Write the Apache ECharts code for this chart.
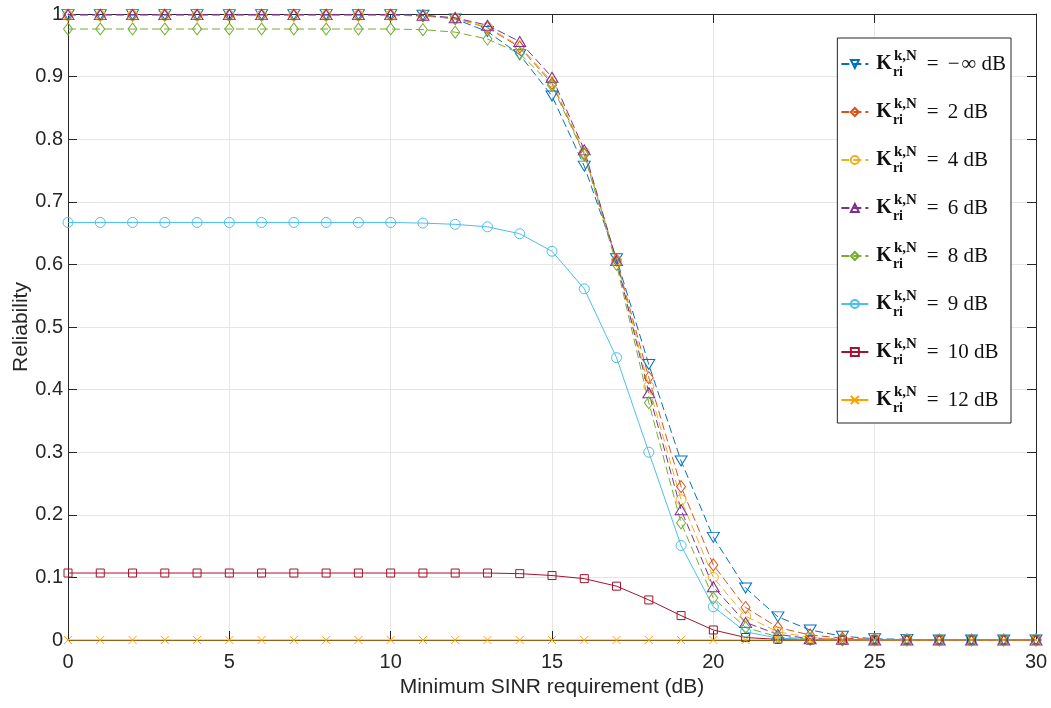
<!DOCTYPE html>
<html><head><meta charset="utf-8">
<script src="https://cdn.jsdelivr.net/npm/echarts@6/dist/echarts.min.js"></script>
<style>html,body{margin:0;padding:0;background:#fff}#c{width:1051px;height:708px}</style>
</head><body><div id="c"></div>
<script>
// x: minimum SINR requirement (dB)
const sinr = [0,1,2,3,4,5,6,7,8,9,10,11,12,13,14,15,16,17,18,19,20,21,22,23,24,25,26,27,28,29,30];
const relNegInf = [0.999,0.999,0.999,0.999,0.999,0.999,0.999,0.999,0.999,0.999,0.999,0.998,0.992,0.972,0.935,0.869,0.757,0.609,0.440,0.286,0.164,0.083,0.037,0.016,0.006,0.002,0.001,0,0,0,0];
const rel2dB = [0.998,0.998,0.998,0.998,0.998,0.998,0.998,0.998,0.998,0.998,0.998,0.997,0.993,0.978,0.947,0.889,0.777,0.607,0.419,0.245,0.120,0.052,0.020,0.008,0.003,0.001,0,0,0,0,0];
const rel4dB = [0.998,0.998,0.998,0.998,0.998,0.998,0.998,0.998,0.998,0.998,0.998,0.997,0.993,0.979,0.949,0.892,0.779,0.606,0.405,0.224,0.100,0.038,0.013,0.004,0.001,0,0,0,0,0,0];
const rel6dB = [0.999,0.999,0.999,0.999,0.999,0.999,0.999,0.999,0.999,0.999,0.999,0.998,0.994,0.982,0.956,0.899,0.783,0.606,0.395,0.208,0.085,0.028,0.009,0.002,0.001,0,0,0,0,0,0];
const rel8dB = [0.976,0.976,0.976,0.976,0.976,0.976,0.976,0.976,0.976,0.976,0.976,0.975,0.971,0.960,0.937,0.886,0.775,0.600,0.379,0.187,0.067,0.020,0.005,0.001,0,0,0,0,0,0,0];
const rel9dB = [0.667,0.667,0.667,0.667,0.667,0.667,0.667,0.667,0.667,0.667,0.667,0.666,0.664,0.660,0.649,0.621,0.561,0.451,0.300,0.151,0.053,0.013,0.003,0.001,0,0,0,0,0,0,0];
const rel10dB = [0.107,0.107,0.107,0.107,0.107,0.107,0.107,0.107,0.107,0.107,0.107,0.107,0.107,0.107,0.106,0.103,0.098,0.086,0.064,0.039,0.016,0.004,0.001,0,0,0,0,0,0,0,0];
const rel12dB = [0,0,0,0,0,0,0,0,0,0,0,0,0,0,0,0,0,0,0,0,0,0,0,0,0,0,0,0,0,0,0];
const legendValues = ['\u2212\u200A\u221E', '2', '4', '6', '8', '9', '10', '12'];
const xTicks = [0, 5, 10, 15, 20, 25, 30];
const yTicks = [0, 0.1, 0.2, 0.3, 0.4, 0.5, 0.6, 0.7, 0.8, 0.9, 1];

const seriesDefs = [
  {key: 'negInf', data: relNegInf, color: '#0072BD', symbol: 'triangle', rotate: 180, size: [12, 10], dash: true},
  {key: 'k2', data: rel2dB, color: '#D95319', symbol: 'diamond', size: [9, 12], dash: true},
  {key: 'k4', data: rel4dB, color: '#EDB120', symbol: 'circle', size: 10, dash: true},
  {key: 'k6', data: rel6dB, color: '#7E2F8E', symbol: 'triangle', rotate: 0, size: [12, 10], dash: true},
  {key: 'k8', data: rel8dB, color: '#77AC30', symbol: 'diamond', size: [9, 12], dash: true},
  {key: 'k9', data: rel9dB, color: '#4DBEEE', symbol: 'circle', size: 10, dash: false},
  {key: 'k10', data: rel10dB, color: '#A2142F', symbol: 'rect', size: 8, dash: false},
  {key: 'k12', data: rel12dB, color: '#FFA000', symbol: 'path://M0,0L10,10M10,0L0,10', size: 8, dash: false}
];

const labelMap = {};
seriesDefs.forEach((d, i) => { labelMap[d.key] = legendValues[i]; });

const axisColor = '#262626';
const sansFont = 'Liberation Sans, Arial, Helvetica, sans-serif';
const serifFont = 'Liberation Serif, Times New Roman, serif';

const series = seriesDefs.map(d => ({
  name: d.key,
  type: 'line',
  xAxisIndex: 0,
  yAxisIndex: 0,
  data: sinr.map((x, i) => [x, d.data[i]]),
  symbol: d.symbol,
  symbolSize: d.size,
  symbolRotate: d.rotate || 0,
  showAllSymbol: true,
  lineStyle: {color: d.color, width: 1, type: d.dash ? [8, 4] : 'solid'},
  itemStyle: {color: 'rgba(255,255,255,0)', borderColor: d.color, borderWidth: 1},
  emphasis: {disabled: true},
  animation: false,
  clip: false
}));

const chart = echarts.init(document.getElementById('c'), null, {renderer: 'canvas'});
chart.setOption({
  backgroundColor: '#fff',
  animation: false,
  grid: {left: 68, right: 15, top: 14, bottom: 68, containLabel: false, outerBoundsMode: 'none'},
  xAxis: [{
    type: 'value', min: 0, max: 30, interval: 5, position: 'bottom',
    name: 'Minimum SINR requirement (dB)', nameLocation: 'middle', nameGap: 32,
    nameTextStyle: {fontSize: 21, color: axisColor, fontFamily: sansFont},
    axisLine: {show: true, onZero: false, lineStyle: {color: axisColor, width: 1}},
    axisTick: {show: true, inside: true, length: 9, lineStyle: {color: axisColor}},
    axisLabel: {fontSize: 20, color: axisColor, fontFamily: sansFont, margin: 12,
      formatter: v => xTicks.indexOf(v) >= 0 ? String(v) : ''},
    splitLine: {show: true, lineStyle: {color: '#e6e6e6', width: 1}}
  }, {
    type: 'value', min: 0, max: 30, interval: 5, position: 'top',
    axisLine: {show: true, onZero: false, lineStyle: {color: axisColor, width: 1}},
    axisTick: {show: true, inside: true, length: 9, lineStyle: {color: axisColor}},
    axisLabel: {show: false}, splitLine: {show: false}
  }],
  yAxis: [{
    type: 'value', min: 0, max: 1, interval: 0.1, position: 'left',
    name: 'Reliability', nameLocation: 'middle', nameGap: 36, nameMoveOverlap: false,
    nameTextStyle: {fontSize: 21, color: axisColor, fontFamily: sansFont},
    axisLine: {show: true, onZero: false, lineStyle: {color: axisColor, width: 1}},
    axisTick: {show: true, inside: true, length: 9, lineStyle: {color: axisColor}},
    axisLabel: {fontSize: 20, color: axisColor, fontFamily: sansFont, margin: 5,
      formatter: v => {
        const r = Math.round(v * 10) / 10;
        return yTicks.indexOf(r) >= 0 ? String(r) : '';
      }},
    splitLine: {show: true, lineStyle: {color: '#e6e6e6', width: 1}}
  }, {
    type: 'value', min: 0, max: 1, interval: 0.1, position: 'right',
    axisLine: {show: true, onZero: false, lineStyle: {color: axisColor, width: 1}},
    axisTick: {show: true, inside: true, length: 9, lineStyle: {color: axisColor}},
    axisLabel: {show: false}, splitLine: {show: false}
  }],
  legend: {
    orient: 'vertical',
    right: 40, top: 38,
    itemWidth: 27, itemHeight: 10, itemGap: 18,
    padding: [11, 5, 8, 3],
    backgroundColor: '#fff',
    borderColor: axisColor, borderWidth: 1, borderRadius: 0,
    selectedMode: false,
    data: seriesDefs.map(d => d.key),
    formatter: name => '{K|K}{sub|ri}{sup|k,N}{eq|=}{val|' + labelMap[name] + ' dB}',
    textStyle: {
      color: '#111',
      rich: {
        K: {fontFamily: serifFont, fontWeight: 'bold', fontSize: 20, lineHeight: 30, color: '#111', padding: [0, 0, 0, 3]},
        sub: {fontFamily: serifFont, fontWeight: 'bold', fontSize: 14, lineHeight: 13, verticalAlign: 'bottom', width: 0, color: '#111', padding: [0, 0, 0, 1]},
        sup: {fontFamily: serifFont, fontWeight: 'bold', fontSize: 15, lineHeight: 20, verticalAlign: 'top', color: '#111', padding: [0, 0, 0, 1]},
        eq: {fontFamily: serifFont, fontSize: 21, lineHeight: 30, color: '#111', padding: [0, 9, 0, 10]},
        val: {fontFamily: serifFont, fontSize: 21, lineHeight: 30, color: '#111'}
      }
    }
  },
  series: series
});
</script>
</body></html>
